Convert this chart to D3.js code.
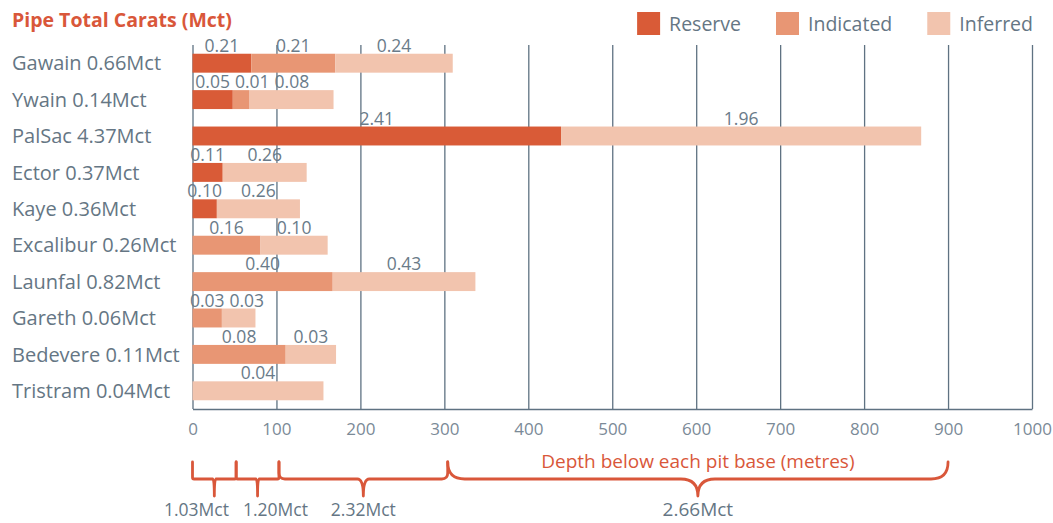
<!DOCTYPE html>
<html>
<head>
<meta charset="utf-8">
<script src="https://cdn.jsdelivr.net/npm/d3@7"></script>
<style>
  html, body { margin: 0; padding: 0; background: #ffffff; }
  svg { display: block; font-family: "Open Sans", "Noto Sans", sans-serif; }
</style>
</head>
<body>
<svg id="chart" width="1053" height="523"></svg>
<script>
// Kimberlite pipes: depth of each resource class below pit base (metres)
// and the carats each class holds (Mct).
const pipes = ["Gawain", "Ywain", "PalSac", "Ector", "Kaye", "Excalibur", "Launfal", "Gareth", "Bedevere", "Tristram"];
const pipeTotals = [0.66, 0.14, 4.37, 0.37, 0.36, 0.26, 0.82, 0.06, 0.11, 0.04];

const classes = ["Reserve", "Indicated", "Inferred"];
const reserveDepth   = [70, 48, 439, 36, 29, 0, 0, 0, 0, 0];
const indicatedDepth = [100, 20, 0, 0, 0, 81, 167, 35, 111, 0];
const inferredDepth  = [140, 100, 429, 100, 99, 80, 170, 40, 60, 156];

const reserveCarats   = [0.21, 0.05, 2.41, 0.11, 0.10, null, null, null, null, null];
const indicatedCarats = [0.21, 0.01, null, null, null, 0.16, 0.40, 0.03, 0.08, null];
const inferredCarats  = [0.24, 0.08, 1.96, 0.26, 0.26, 0.10, 0.43, 0.03, 0.03, 0.04];

const depthTicks = [0, 100, 200, 300, 400, 500, 600, 700, 800, 900, 1000];

// depth intervals summarised below the axis, with carats in each
const depthBands = [0, 52, 103, 304, 900];
const bandCarats = [1.03, 1.20, 2.32, 2.66];

const colors = { Reserve: "#d95b37", Indicated: "#e89674", Inferred: "#f2c4ae" };
const orange = "#d9573a";
const grey = "#657684";
const gridGrey = "#5f7282";

const svg = d3.select("#chart");
const fmt = d3.format(".2f");

const x = d3.scaleLinear().domain([0, 1000]).range([192.5, 1032]);
const y = d3.scaleBand().domain(pipes).range([45, 409]).paddingInner(0.48).paddingOuter(0.24);

// table rows for stacking
const rows = pipes.map((p, i) => ({
  pipe: p,
  Reserve: reserveDepth[i], Indicated: indicatedDepth[i], Inferred: inferredDepth[i],
  carats: { Reserve: reserveCarats[i], Indicated: indicatedCarats[i], Inferred: inferredCarats[i] }
}));
const stacked = d3.stack().keys(classes)(rows);

// grid + axis
const axis = d3.axisBottom(x).tickValues(depthTicks).tickFormat(d3.format("d"))
  .tickSize(-(409 - 45)).tickSizeOuter(0).tickPadding(14);
const gAxis = svg.append("g").attr("transform", "translate(0,409)").call(axis);
gAxis.select(".domain").attr("stroke", gridGrey).attr("stroke-width", 1.4);
gAxis.selectAll(".tick line").attr("stroke", gridGrey).attr("stroke-width", 1.3);
gAxis.selectAll(".tick text").attr("fill", "#7b8a97").attr("font-size", 17)
  .attr("font-family", "\"Open Sans\", sans-serif");

// bars
svg.append("g").selectAll("g").data(stacked).join("g")
  .attr("fill", d => colors[d.key])
  .selectAll("rect").data(d => d.filter(s => s[1] > s[0])).join("rect")
  .attr("x", s => x(s[0]))
  .attr("y", s => y(s.data.pipe))
  .attr("width", s => x(s[1]) - x(s[0]))
  .attr("height", y.bandwidth());

// carat labels above each segment, nudged right where they would collide
const labelLayer = svg.append("g").attr("fill", "#6a7b89").attr("font-size", 17.5).attr("text-anchor", "middle");
pipes.forEach((p, i) => {
  const segs = [];
  stacked.forEach(layer => {
    const s = layer[i];
    const c = s.data.carats[layer.key];
    if (c != null) segs.push({ cx: (x(s[0]) + x(s[1])) / 2, text: fmt(c) });
  });
  let prevRight = -Infinity;
  segs.forEach(sg => {
    const t = labelLayer.append("text").attr("y", y(p) - 2).text(sg.text);
    const w = t.node().getComputedTextLength();
    let cx = sg.cx;
    if (cx - w / 2 < prevRight + 5) cx = prevRight + 5 + w / 2;
    t.attr("x", cx);
    prevRight = cx + w / 2;
  });
});

// pipe names with totals
svg.append("g").selectAll("text").data(pipes).join("text")
  .attr("x", 12)
  .attr("y", d => y(d) + y.bandwidth() / 2)
  .attr("dy", "0.36em")
  .attr("fill", grey)
  .attr("font-size", 20)
  .text((d, i) => `${d} ${fmt(pipeTotals[i])}Mct`);

// title
svg.append("text").attr("x", 12).attr("y", 27)
  .attr("fill", orange).attr("font-size", 19.5).attr("font-weight", 700)
  .text("Pipe Total Carats (Mct)");

// legend, right-aligned
const legend = svg.append("g");
let lx = 1033;
classes.slice().reverse().forEach(k => {
  const t = legend.append("text").attr("y", 31).attr("fill", grey).attr("font-size", 19.5).text(k);
  const w = t.node().getComputedTextLength();
  t.attr("x", lx - w);
  legend.append("rect").attr("x", lx - w - 9 - 23).attr("y", 12).attr("width", 23).attr("height", 23).attr("fill", colors[k]);
  lx = lx - w - 9 - 23 - 35;
});

// braces beneath the axis
const yTop = 462, yBar = 479, yTip = 496;
function bracePath(x0, x1) {
  const xm = (x0 + x1) / 2;
  const r = Math.max(1.5, Math.min(17, (x1 - x0) * 0.035));
  const p = d3.path();
  p.moveTo(x0, yTop);
  p.lineTo(x0, yBar - r);
  p.quadraticCurveTo(x0, yBar, x0 + r, yBar);
  p.lineTo(xm - r, yBar);
  p.quadraticCurveTo(xm, yBar, xm, yTip);
  p.quadraticCurveTo(xm, yBar, xm + r, yBar);
  p.lineTo(x1 - r, yBar);
  p.quadraticCurveTo(x1, yBar, x1, yBar - r);
  p.lineTo(x1, yTop);
  return p.toString();
}
const braces = d3.pairs(depthBands);
svg.append("g").selectAll("path").data(braces).join("path")
  .attr("d", d => bracePath(x(d[0]), x(d[1])))
  .attr("fill", "none").attr("stroke", orange).attr("stroke-width", 2.8)
  .attr("stroke-linejoin", "round").attr("stroke-linecap", "round");

svg.append("text")
  .attr("x", x((depthBands[3] + depthBands[4]) / 2)).attr("y", 468)
  .attr("text-anchor", "middle").attr("fill", orange).attr("font-size", 19)
  .text("Depth below each pit base (metres)");

// brace totals, spread apart where neighbours would overlap
const bl = svg.append("g").attr("fill", grey).attr("text-anchor", "middle");
const bLabels = braces.map((d, i) => {
  const last = i === braces.length - 1;
  const t = bl.append("text").attr("y", last ? 516 : 516)
    .attr("font-size", last ? 19 : 17.5)
    .text(`${fmt(bandCarats[i])}Mct`);
  return { t, cx: x((d[0] + d[1]) / 2), w: t.node().getComputedTextLength() };
});
for (let i = 1; i < bLabels.length; i++) {
  const a = bLabels[i - 1], b = bLabels[i];
  const need = a.w / 2 + b.w / 2 + 14 - (b.cx - a.cx);
  if (need > 0) { a.cx -= need / 2; b.cx += need / 2; }
}
bLabels.forEach(l => l.t.attr("x", l.cx));
</script>
</body>
</html>
